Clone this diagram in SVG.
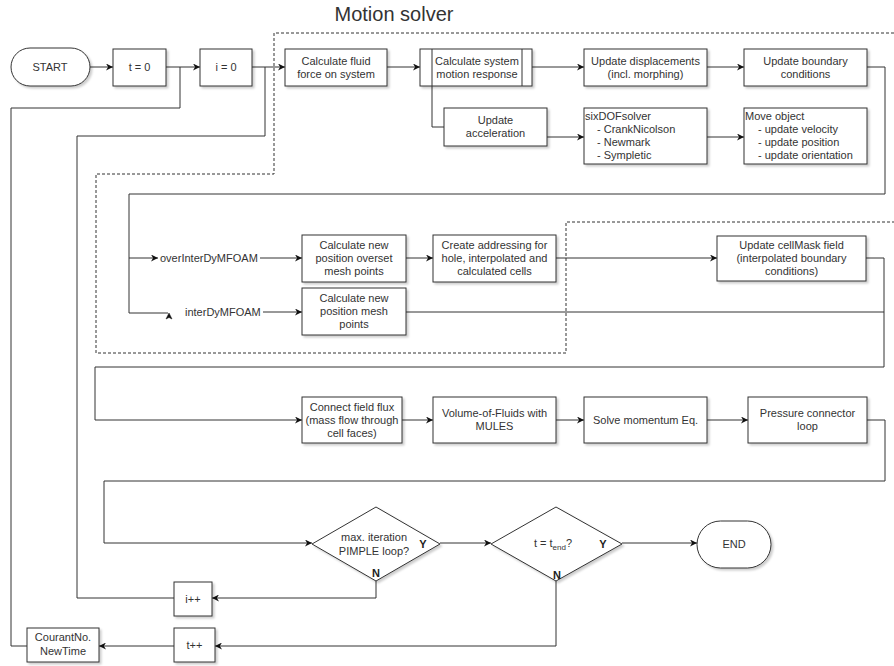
<svg xmlns="http://www.w3.org/2000/svg" width="894" height="666" viewBox="0 0 894 666">
<style>
.n{fill:#fff;stroke:#333;stroke-width:1;filter:url(#sh)}
.t{font-family:"Liberation Sans",Arial,sans-serif;font-size:11px;fill:#333;text-anchor:middle}
.l{font-family:"Liberation Sans",Arial,sans-serif;font-size:11px;fill:#333;text-anchor:start}
.b{font-family:"Liberation Sans",Arial,sans-serif;font-size:11px;font-weight:bold;fill:#222;text-anchor:middle}
.c{fill:none;stroke:#333;stroke-width:1}
.a{marker-end:url(#ar)}
.d{fill:none;stroke:#333;stroke-width:1;stroke-dasharray:3 2}
</style>
<defs>
<filter id="sh" x="-10%" y="-10%" width="130%" height="140%">
<feDropShadow dx="2" dy="2" stdDeviation="1" flood-color="#000" flood-opacity="0.2"/>
</filter>
<marker id="ar" viewBox="0 0 10 10" refX="10" refY="5" markerWidth="7" markerHeight="7" orient="auto" markerUnits="userSpaceOnUse">
<path d="M0,0 L10,5 L0,10 L3,5 Z" fill="#111"/>
</marker>
</defs>
<rect width="894" height="666" fill="#fff"/>
<text x="394" y="21" style="font-family:'Liberation Sans',Arial,sans-serif;font-size:20px;fill:#333;text-anchor:middle">Motion solver</text>
<path class="d" d="M894,33 H274 V174 H96 V353 H566 V222 H894"/>
<g id="connectors">
<path class="c a" d="M90,67 H113"/>
<path class="c a" d="M166,67 H200"/>
<path class="c a" d="M252,67 H285"/>
<path class="c a" d="M387,67 H420"/>
<path class="c a" d="M532,67 H584"/>
<path class="c a" d="M707,67 H744"/>
<path class="c" d="M432,86 V127 H444"/>
<path class="c a" d="M547,137 H584"/>
<path class="c a" d="M707,137 H744"/>
<path class="c" d="M867,67 H885 V194 H129 V313 H168"/>
<path d="M169,313 L172,319 L169,317.5 L166,319 Z" fill="#111" stroke="#111" stroke-width="0.5"/>
<path class="c a" d="M129,258 H158"/>
<path class="c a" d="M260,258 H302"/>
<path class="c a" d="M263,312 H302"/>
<path class="c a" d="M406,258 H433"/>
<path class="c a" d="M556,258 H717"/>
<path class="c" d="M866,258 H884 V367 H95 V420"/>
<path class="c a" d="M95,420 H302"/>
<path class="c" d="M406,312 H884"/>
<path class="c a" d="M402,420 H433"/>
<path class="c a" d="M556,420 H584"/>
<path class="c a" d="M707,420 H748"/>
<path class="c a" d="M867,420 H885 V481 H104 V543 H312"/>
<path class="c a" d="M440,543 H491"/>
<path class="c a" d="M622,543 H697"/>
<path class="c a" d="M376,581 V598 H212"/>
<path class="c" d="M174,598 H77 V136 H265 V67"/>
<path class="c a" d="M556,581 V646 H215"/>
<path class="c a" d="M174,646 H99"/>
<path class="c" d="M27,646 H11 V108 H180 V67"/>
</g>
<g id="start"><rect class="n" x="11" y="48" width="79" height="38" rx="19"/><text class="t" x="50" y="71">START</text></g>
<g id="t0"><rect class="n" x="113" y="49" width="53" height="37"/><text class="t" x="139.5" y="71">t = 0</text></g>
<g id="i0"><rect class="n" x="200" y="49" width="52" height="37"/><text class="t" x="226" y="71">i = 0</text></g>
<g id="fluidforce"><rect class="n" x="285" y="49" width="102" height="37"/><text class="t" x="336" y="65">Calculate fluid</text><text class="t" x="336" y="78">force on system</text></g>
<g id="motionresponse"><rect class="n" x="420" y="49" width="112" height="37"/><path class="c" d="M432,49 V86 M522,49 V86"/><text class="t" x="477" y="65">Calculate system</text><text class="t" x="477" y="78">motion response</text></g>
<g id="displacements"><rect class="n" x="584" y="49" width="123" height="37"/><text class="t" x="645.5" y="65">Update displacements</text><text class="t" x="645.5" y="78">(incl. morphing)</text></g>
<g id="boundary"><rect class="n" x="744" y="49" width="123" height="37"/><text class="t" x="805.5" y="65">Update boundary</text><text class="t" x="805.5" y="78">conditions</text></g>
<g id="acceleration"><rect class="n" x="444" y="108" width="103" height="38"/><text class="t" x="495.5" y="124">Update</text><text class="t" x="495.5" y="137">acceleration</text></g>
<g id="sixdof"><rect class="n" x="584" y="108" width="123" height="56"/><text class="l" x="585" y="120">sixDOFsolver</text><text class="l" x="597" y="133">- CrankNicolson</text><text class="l" x="597" y="146">- Newmark</text><text class="l" x="597" y="159">- Sympletic</text></g>
<g id="moveobject"><rect class="n" x="744" y="108" width="123" height="56"/><text class="l" x="745" y="120">Move object</text><text class="l" x="758" y="133">- update velocity</text><text class="l" x="758" y="146">- update position</text><text class="l" x="758" y="159">- update orientation</text></g>
<g id="lbl-over"><text class="l" x="160" y="262">overInterDyMFOAM</text></g>
<g id="lbl-inter"><text class="l" x="185" y="316">interDyMFOAM</text></g>
<g id="overset"><rect class="n" x="302" y="235" width="104" height="47"/><text class="t" x="354" y="249">Calculate new</text><text class="t" x="354" y="262">position overset</text><text class="t" x="354" y="275">mesh points</text></g>
<g id="meshpoints"><rect class="n" x="302" y="288" width="104" height="47"/><text class="t" x="354" y="302">Calculate new</text><text class="t" x="354" y="315">position mesh</text><text class="t" x="354" y="328">points</text></g>
<g id="addressing"><rect class="n" x="433" y="235" width="123" height="47"/><text class="t" x="494.5" y="249">Create addressing for</text><text class="t" x="494.5" y="262">hole, interpolated and</text><text class="t" x="494.5" y="275">calculated cells</text></g>
<g id="cellmask"><rect class="n" x="717" y="236" width="149" height="45"/><text class="t" x="791.5" y="249">Update cellMask field</text><text class="t" x="791.5" y="262">(interpolated boundary</text><text class="t" x="791.5" y="275">conditions)</text></g>
<g id="flux"><rect class="n" x="302" y="397" width="100" height="46"/><text class="t" x="352" y="411">Connect field flux</text><text class="t" x="352" y="424">(mass flow through</text><text class="t" x="352" y="437">cell faces)</text></g>
<g id="vof"><rect class="n" x="433" y="397" width="123" height="46"/><text class="t" x="494.5" y="417">Volume-of-Fluids with</text><text class="t" x="494.5" y="430">MULES</text></g>
<g id="momentum"><rect class="n" x="584" y="397" width="123" height="46"/><text class="t" x="645.5" y="424">Solve momentum Eq.</text></g>
<g id="pressure"><rect class="n" x="748" y="397" width="119" height="46"/><text class="t" x="807.5" y="417">Pressure connector</text><text class="t" x="807.5" y="430">loop</text></g>
<g id="pimple"><path class="n" d="M376,507 L440,544 L376,581 L312,544 Z"/><text class="t" x="374" y="541">max. iteration</text><text class="t" x="374" y="555">PIMPLE loop?</text><text class="b" x="423" y="548">Y</text><text class="b" x="376" y="577">N</text></g>
<g id="tend"><path class="n" d="M556,507 L622,544 L556,581 L491,544 Z"/><text class="t" x="553" y="547">t = t<tspan font-size="8" dy="3">end</tspan><tspan dy="-3">?</tspan></text><text class="b" x="603" y="548">Y</text><text class="b" x="557" y="579">N</text></g>
<g id="end"><rect class="n" x="697" y="521" width="74" height="47" rx="23.5"/><text class="t" x="734" y="548">END</text></g>
<g id="iplus"><rect class="n" x="174" y="582" width="38" height="34"/><text class="t" x="193" y="603">i++</text></g>
<g id="tplus"><rect class="n" x="174" y="628" width="41" height="34"/><text class="t" x="194.5" y="649">t++</text></g>
<g id="courant"><rect class="n" x="27" y="628" width="72" height="34"/><text class="t" x="63" y="641">CourantNo.</text><text class="t" x="63" y="655">NewTime</text></g>
</svg>
